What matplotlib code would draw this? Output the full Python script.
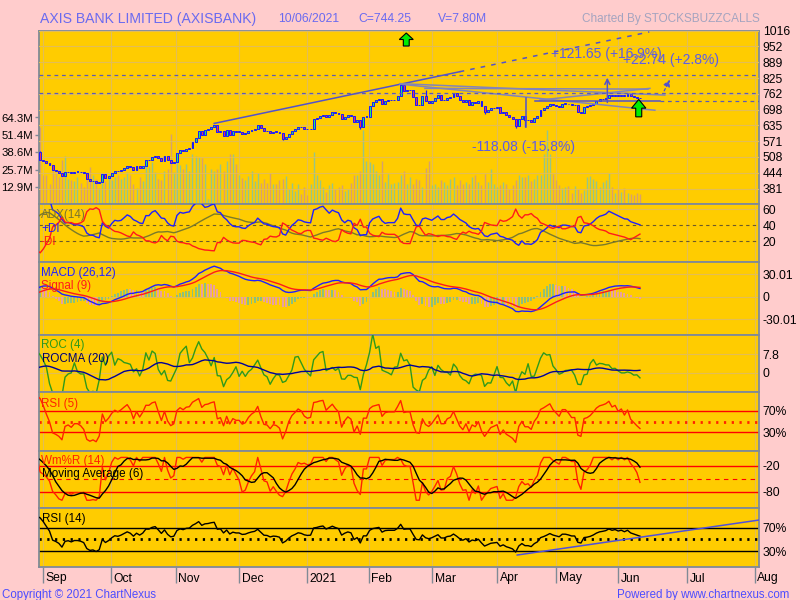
import numpy as np
import pandas as pd
import matplotlib
matplotlib.use('Agg')
import matplotlib.pyplot as plt
import matplotlib.transforms as mtransforms
from matplotlib.patches import Polygon

plt.rcParams['font.family'] = ['Liberation Sans', 'DejaVu Sans']

# warm-up closes before the visible window (Aug 2020), only used to seed the indicators
pre_close = [437, 433, 429, 426, 428, 431, 427, 423, 425, 429, 433, 431,
             428, 426, 430, 434, 438, 441, 446, 451, 456, 461, 466, 472]

# daily closes, trading day -2 (28 Aug 2020) .. 192 (10 Jun 2021)
first_day = -2
closes = [
    497, 495, 490, 483, 475, 454, 450, 444, 430, 446,
    448, 444, 448, 448, 446, 442, 420, 411, 412, 404,
    408, 438, 425, 432, 443, 452, 450, 455, 462, 470,
    466, 457, 470, 464, 473, 495, 495, 506, 511, 502,
    491, 511, 495, 485, 488, 522, 535, 532, 542, 544,
    568, 585, 612, 598, 616, 620, 630, 636, 609, 612,
    594, 618, 598, 613, 609, 609, 602, 604, 612, 618,
    622, 636, 625, 613, 612, 606, 610, 609, 606, 582,
    589, 602, 613, 620, 629, 627, 622, 620, 621, 661,
    665, 672, 676, 667, 676, 687, 683, 680, 659, 669,
    676, 673, 647, 656, 629, 669, 669, 712, 730, 737,
    743, 720, 734, 737, 737, 737, 753, 797, 774, 777,
    777, 750, 719, 716, 753, 734, 727, 734, 745, 757,
    737, 737, 747, 750, 764, 753, 739, 730, 739, 719,
    730, 726, 734, 712, 689, 696, 703, 705, 707, 683,
    689, 676, 669, 660, 632, 659, 672, 656, 656, 649,
    663, 672, 696, 703, 712, 723, 716, 712, 708, 723,
    723, 720, 716, 716, 689, 685, 710, 712, 716, 723,
    733, 740, 743, 747, 757, 753, 757, 753, 757, 753,
    760, 753, 750, 747, 744.25,
]

# daily volume in millions, same days
volumes = [
    30,
    57, 21.5, 21.5, 15, 26.5, 24, 20, 32.6, 36, 19,
    18, 17, 20, 16, 13, 24, 28, 21.5, 19, 12.4,
    19, 17, 22, 18, 20, 22, 19, 20, 24, 21.5,
    15, 12.4, 20, 17, 32.6, 28, 31, 24, 19, 18,
    25, 26.5, 52, 24, 31, 29, 26.5, 30, 25, 37,
    36, 35, 34, 30, 4, 26.5, 25, 26.5, 30, 25,
    32, 37, 37, 30,
    22, 19.5, 18, 21, 25, 17, 23, 16, 19, 16,
    23, 15, 15, 18, 19, 21, 11, 16, 9.6, 15,
    8, 13, 6.7, 15, 39, 21.5, 18, 13, 9, 14,
    16, 11, 13, 14, 10, 11.6, 16, 22, 22, 25,
    55, 32, 31, 29.6, 24.7, 21.5, 32, 16.5, 22.7, 15,
    16, 16.5, 21.5, 24.7, 15, 20, 15, 19, 18, 12.6,
    27, 32, 14, 15, 13, 18, 16.5,
    14, 19, 20, 14, 18, 15, 16.5, 15, 20, 21.5,
    16.5, 14, 22.7, 16.5, 26.5, 15, 12.8, 14, 16.5, 15,
    11.6, 14, 17.8, 21.5, 20, 20, 21.5, 17, 19, 21.5,
    21.5, 37, 55, 37, 22.7, 18, 14, 12.4, 12.8, 13.3,
    8.4, 13.3, 11.6, 8.4, 10.4, 20, 20.7, 19, 17, 12.8,
    16.5, 17.8, 23, 12.8, 8.4, 11.6, 9, 12.4, 8.4, 7.8,
    6.6, 8.4, 7.8,
]

gap_open = {-1: 528}
wick_high = {-1: 531, 115: 805, 116: 800, 123: 776}
wick_low = {77: 577, 102: 620, 142: 680, 152: 624, 155: 628}

month_pos = [0, 21.8, 42.7, 63.1, 84.9, 104.9, 125.2, 146.1, 165.1, 185, 207.2, 229]
month_labels = ['Sep', 'Oct', 'Nov', 'Dec', '2021', 'Feb', 'Mar', 'Apr', 'May', 'Jun', 'Jul', 'Aug']

price_ticks = [381, 444.5, 508, 571.5, 635, 698.5, 762, 825.5, 889, 952.5, 1016]
price_labels = ['381', '444', '508', '571', '635', '698', '762', '825', '889', '952', '1016']
vol_ticks = [12.86, 25.72, 38.58, 51.44, 64.3]
vol_labels = ['12.9M', '25.7M', '38.6M', '51.4M', '64.3M']

# lines drawn on the chart (day index, price)
trend_solid = [(55, 643), (134, 851)]
trend_dash = [(134, 851), (195, 1011)]
grey_lines = [[(114.8, 803), (200.0, 757)],
              [(122.8, 784), (194.6, 781)],
              [(114.8, 801), (196.8, 696)],
              [(159.8, 737), (195.2, 784)]]
level_dash = [838, 764]
support_solid = [(158.2, 734), (198.5, 734)]
support_dash = [(198.5, 734), (230.4, 734)]
drop_line = [(155.3, 746), (155.3, 629)]
rise_arrow = [(181.5, 716), (181.5, 838)]
small_arrow = [(199.4, 764), (202.0, 829)]
rsi14_trend = [(152.5, 23.1), (230.4, 83.2)]

# ---------- series ----------
days = np.arange(first_day - len(pre_close), first_day + len(closes))
close = pd.Series(pre_close + closes, index=days, dtype=float)
opn = close.shift(1).fillna(close.iloc[0])
for d, v in gap_open.items():
    opn.loc[d] = v
high = np.maximum(opn, close)
low = np.minimum(opn, close)
for d, v in wick_high.items():
    high.loc[d] = v
for d, v in wick_low.items():
    low.loc[d] = v
vol = pd.Series(volumes, index=np.arange(first_day, first_day + len(volumes)), dtype=float)


def wilder(s, n):
    return s.ewm(alpha=1.0 / n, adjust=True).mean()


def rsi(s, n):
    d = s.diff()
    g = wilder(d.clip(lower=0), n)
    l = wilder((-d).clip(lower=0), n)
    return 100 - 100 / (1 + g / l)


ema12 = close.ewm(span=12, adjust=False).mean()
ema26 = close.ewm(span=26, adjust=False).mean()
macd = ema12 - ema26
signal = macd.ewm(span=9, adjust=False).mean()
hist = 2 * (macd - signal)

roc = close.pct_change(4) * 100
rocma = roc.rolling(20, min_periods=1).mean()

rsi5 = rsi(close, 5)
rsi14 = rsi(close, 14)

hh = high.rolling(14, min_periods=1).max()
ll = low.rolling(14, min_periods=1).min()
wr = -100 * (hh - close) / (hh - ll)
wr_ma = wr.rolling(6, min_periods=1).mean()

prev_c = close.shift(1)
tr = pd.concat([high - low, (high - prev_c).abs(), (low - prev_c).abs()], axis=1).max(axis=1)
up_mv = high.diff()
dn_mv = -low.diff()
pdm = up_mv.where((up_mv > dn_mv) & (up_mv > 0), 0.0)
mdm = dn_mv.where((dn_mv > up_mv) & (dn_mv > 0), 0.0)
atr = wilder(tr, 14)
pdi = 100 * wilder(pdm, 14) / atr
mdi = 100 * wilder(mdm, 14) / atr
dx = 100 * (pdi - mdi).abs() / (pdi + mdi)
adx = wilder(dx.iloc[1:], 14).reindex(dx.index)


def vis(s):
    return s.loc[first_day:]


x = vis(close).index.values

# ---------- figure ----------
BG = '#ffcccc'
PANEL = '#ffcc00'
EDGE = '#808a96'
GRID = '#e3bd55'
BLUE_TXT = '#6a6af0'
fig = plt.figure(figsize=(8, 6), dpi=100, facecolor=BG)

L, R = 38.7, 759.3
edges = [30.7, 204.3, 262.3, 335.0, 392.3, 450.7, 508.3, 566.7]
x0, x1 = -1.48, 230.4


def fy(ypx):
    return 1 - ypx / 600.0


def make_panel(top, bot):
    ax = fig.add_axes([L / 800, fy(bot), (R - L) / 800, (bot - top) / 600])
    ax.set_facecolor(PANEL)
    for s in ax.spines.values():
        s.set_color(EDGE)
        s.set_linewidth(1.3)
    ax.set_xlim(x0, x1)
    ax.set_xticks([])
    for m in month_pos:
        ax.axvline(m, color=GRID, lw=0.8, zorder=0.5)
    return ax


def right_labels(ax, ticks, labels):
    ax.yaxis.tick_right()
    ax.set_yticks(ticks, labels)
    ax.tick_params(axis='y', length=0, pad=2.5, labelsize=8.7)


def hgrid(ax, vals):
    for v in vals:
        ax.axhline(v, color=GRID, lw=0.8, zorder=0.5)


def panel_text(xpx, ypx, s, color):
    fig.text(xpx / 800, fy(ypx + 4), s, fontsize=8.4, color=color, va='baseline', ha='left')


# main panel: volume underneath, price on top
ax_vol = make_panel(edges[0], edges[1])
ax_vol.set_ylim(0, 128.6)
ax_vol.set_yticks(vol_ticks, vol_labels)
ax_vol.tick_params(axis='y', left=True, right=False, labelleft=True, labelright=False,
                   length=3, width=1, color=EDGE, pad=1, labelsize=8.2)
up = (vis(close) >= vis(opn)).values
ax_vol.vlines(x, 0, vol.values, colors=np.where(up, '#95c48a', '#d6a070'), lw=1.0, zorder=2)

ax_px = ax_vol.twinx()
ax_px.patch.set_visible(False)
for s in ax_px.spines.values():
    s.set_visible(False)
ax_px.set_xlim(x0, x1)
ax_px.set_ylim(317.5, 1016)
right_labels(ax_px, price_ticks, price_labels)
hgrid(ax_px, price_ticks)

cb = '#1a1aff'
ax_px.vlines(x, vis(low).values, vis(high).values, color=cb, lw=0.9, zorder=3)
body_lo = np.minimum(vis(opn).values, vis(close).values)
body_h = np.maximum(np.abs(vis(close).values - vis(opn).values), 2.0)
ax_px.bar(x, body_h, bottom=body_lo, width=0.62, color=np.where(up, '#22ee66', '#ee3355'),
          edgecolor=cb, linewidth=0.7, zorder=4)

line_c = '#5252cc'
ax_px.plot(*zip(*trend_solid), color=line_c, lw=1.1, zorder=5)
ax_px.plot(*zip(*trend_dash), color=line_c, lw=1.1, ls=(0, (3, 4)), zorder=5)
for gl in grey_lines:
    ax_px.plot(*zip(*gl), color='#8484b8', lw=1.1, zorder=5)
for lv in level_dash:
    ax_px.axhline(lv, color='#5a5ab8', lw=0.9, ls=(0, (3, 3)), zorder=5)
ax_px.plot(*zip(*support_solid), color=line_c, lw=1.1, zorder=5)
ax_px.plot(*zip(*support_dash), color='#5a5ab8', lw=0.9, ls=(0, (3, 3)), zorder=5)
ax_px.plot(*zip(*drop_line), color=line_c, lw=1.1, zorder=5)
ax_px.annotate('', xy=rise_arrow[1], xytext=rise_arrow[0],
               arrowprops=dict(arrowstyle='->', color=line_c, lw=1.1, mutation_scale=9), zorder=5)
ax_px.annotate('', xy=small_arrow[1], xytext=small_arrow[0],
               arrowprops=dict(arrowstyle='-|>', color=line_c, lw=0.9, ls=(0, (2, 2)),
                               facecolor='none', mutation_scale=10), zorder=5)


def up_arrow(ax, xd, yd, w, h):
    hw = w / 2.0
    pts = np.array([(0, 0), (-hw, -h * 0.5), (-hw * 0.42, -h * 0.5), (-hw * 0.42, -h),
                    (hw * 0.42, -h), (hw * 0.42, -h * 0.5), (hw, -h * 0.5)]) / 100.0
    trn = fig.dpi_scale_trans + mtransforms.ScaledTranslation(xd, yd, ax.transData)
    ax.add_patch(Polygon(pts, closed=True, transform=trn, facecolor='#00ee00',
                         edgecolor='black', lw=0.8, zorder=6, clip_on=False))


up_arrow(ax_px, 116.8, 1006.7, 14, 13)
up_arrow(ax_px, 191.6, 739.4, 14.3, 17.4)

ann_c = '#5c5ce6'
fig.text(550.7 / 800, fy(58.3), '+121.65 (+16.9%)', fontsize=10, color=ann_c, va='baseline')
fig.text(622.7 / 800, fy(64.3), '+22.74 (+2.8%)', fontsize=10, color=ann_c, va='baseline')
fig.text(471.7 / 800, fy(150.7), '-118.08 (-15.8%)', fontsize=10, color=ann_c, va='baseline')

# ADX
ax_adx = make_panel(edges[1], edges[2])
ax_adx.set_ylim(-6.6, 65.9)
right_labels(ax_adx, [60, 40, 20], ['60', '40', '20'])
hgrid(ax_adx, [60])
for v in (40, 20):
    ax_adx.axhline(v, color='#6b5a2a', lw=0.8, ls=(0, (3, 3)), zorder=1)
ax_adx.plot(x, vis(adx).values, color='#7a7a2a', lw=1.0, zorder=3)
ax_adx.plot(x, vis(pdi).values, color='#1f1fff', lw=1.0, zorder=3)
ax_adx.plot(x, vis(mdi).values, color='#ff1a1a', lw=1.0, zorder=3)
panel_text(40.7, 214, 'ADX(14)', '#7a7530')
panel_text(41.7, 227.7, '+DI', '#1f1fff')
panel_text(40.7, 241, '-DI', '#ff1a1a')

# MACD
ax_macd = make_panel(edges[2], edges[3])
ax_macd.set_ylim(-50.6, 45.9)
right_labels(ax_macd, [30.01, 0, -30.01], ['30.01', '0', '-30.01'])
hgrid(ax_macd, [30.01, 0, -30.01])
h = vis(hist)
rising = (h.diff().fillna(0) >= 0).values
ax_macd.bar(x, h.values, width=0.6, color=np.where(rising, '#8cc07c', '#e8a0a0'), zorder=2)
ax_macd.plot(x, vis(macd).values, color='#1f1fff', lw=1.0, zorder=3)
ax_macd.plot(x, vis(signal).values, color='#ff1a1a', lw=1.0, zorder=3)
panel_text(41.3, 271.7, 'MACD (26,12)', '#1f1fff')
panel_text(41, 285, 'Signal (9)', '#ff1a1a')

# ROC
ax_roc = make_panel(edges[3], edges[4])
ax_roc.set_ylim(-8.05, 15.7)
right_labels(ax_roc, [7.8, 0], ['7.8', '0'])
hgrid(ax_roc, [7.8, 0])
ax_roc.plot(x, vis(roc).values, color='#2e9a1a', lw=1.0, zorder=3)
ax_roc.plot(x, vis(rocma).values, color='#000099', lw=1.0, zorder=3)
panel_text(41, 344, 'ROC (4)', '#2e9a1a')
panel_text(41.7, 357.7, 'ROCMA (20)', '#000066')

dots = (0, (0.8, 2.0))

# RSI 5
ax_r5 = make_panel(edges[4], edges[5])
ax_r5.set_ylim(-5, 105)
right_labels(ax_r5, [70, 30], ['70%', '30%'])
for v in (70, 30):
    ax_r5.axhline(v, color='#ff0000', lw=1.0, zorder=1)
ax_r5.axhline(50, color='#ff2200', lw=2.0, ls=dots, zorder=1)
ax_r5.plot(x, vis(rsi5).values, color='#ff2200', lw=1.0, zorder=3)
panel_text(41, 402.7, 'RSI (5)', '#ff2200')

# Williams %R
ax_wr = make_panel(edges[5], edges[6])
ax_wr.set_ylim(-118.8, 15.7)
right_labels(ax_wr, [-20, -80], ['-20', '-80'])
for v in (-20, -80):
    ax_wr.axhline(v, color='#ff0000', lw=1.0, zorder=1)
ax_wr.axhline(-50, color='#ff0000', lw=0.8, ls=(0, (4, 4)), zorder=1)
ax_wr.plot(x, vis(wr).values, color='#ff2200', lw=1.0, zorder=3)
ax_wr.plot(x, vis(wr_ma).values, color='black', lw=1.0, zorder=3)
panel_text(41, 460, 'Wm%R (14)', '#ff2200')
panel_text(41.7, 473, 'Moving Average (6)', 'black')

# RSI 14
ax_r14 = make_panel(edges[6], edges[7])
ax_r14.set_ylim(3.05, 103.3)
right_labels(ax_r14, [70, 30], ['70%', '30%'])
for v in (70, 30):
    ax_r14.axhline(v, color='black', lw=1.0, zorder=1)
ax_r14.axhline(50, color='black', lw=2.0, ls=dots, zorder=1)
ax_r14.plot(x, vis(rsi14).values, color='black', lw=1.0, zorder=3)
ax_r14.plot(*zip(*rsi14_trend), color='#5050dd', lw=1.1, zorder=4)
panel_text(41.7, 518.3, 'RSI (14)', 'black')

ax_r14.set_xticks(month_pos)
ax_r14.tick_params(axis='x', length=11.5, width=1, color=EDGE, labelbottom=False)
bt = mtransforms.blended_transform_factory(ax_r14.transData, fig.transFigure)
for m, lab in zip(month_pos, month_labels):
    ax_r14.text(m + 0.7, fy(581.5), lab, transform=bt, fontsize=8.7, va='baseline',
                ha='left', clip_on=False)

# header / footer texts
fig.text(40 / 800, fy(22.5), 'AXIS BANK LIMITED (AXISBANK)', fontsize=10.1, color=BLUE_TXT, va='baseline')
fig.text(277.7 / 800, fy(22), '10/06/2021', fontsize=8.7, color=BLUE_TXT, va='baseline')
fig.text(358.3 / 800, fy(22), 'C=744.25', fontsize=8.7, color=BLUE_TXT, va='baseline')
fig.text(438.3 / 800, fy(22), 'V=7.80M', fontsize=8.7, color=BLUE_TXT, va='baseline')
fig.text(R / 800, fy(22), 'Charted By STOCKSBUZZCALLS', fontsize=8.5, color='#a4a4c0',
         va='baseline', ha='right')
fig.text(2 / 800, fy(597.7), 'Copyright \u00a9 2021 ChartNexus', fontsize=8.3, color='#4d4dff', va='baseline')
fig.text(789.3 / 800, fy(597.7), 'Powered by www.chartnexus.com', fontsize=8.3, color='#4d4dff',
         va='baseline', ha='right')

fig.savefig('out.png', dpi=100, facecolor=BG)
